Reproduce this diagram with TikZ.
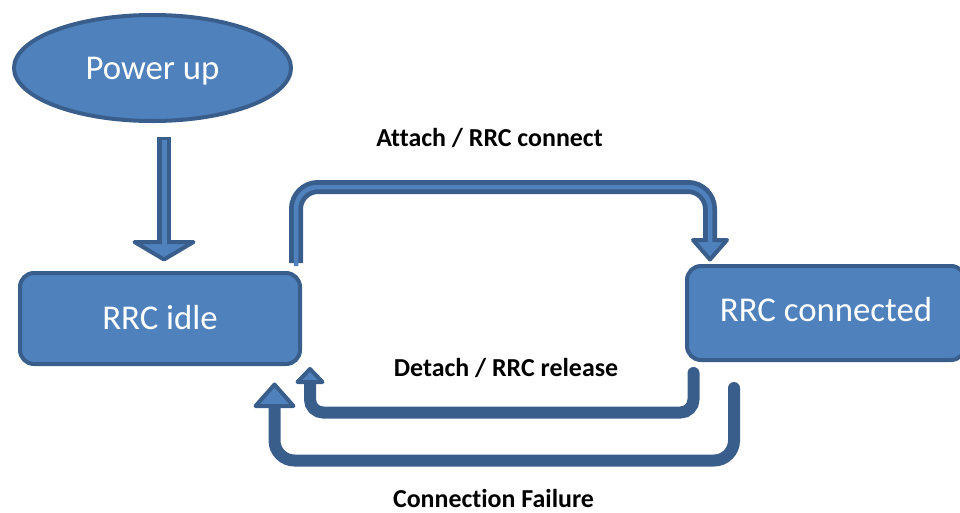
\documentclass[tikz,border=0pt]{standalone}
\usepackage{fontspec}
\setmainfont[Ligatures={NoCommon}]{Carlito}
\usetikzlibrary{shapes.geometric}
\definecolor{boxfill}{HTML}{4F81BD}
\definecolor{boxline}{HTML}{3A5E8C}
\tikzset{
  statebox/.style={draw=boxline, fill=boxfill, line width=4pt, rounded corners=14pt,
    inner sep=0pt, text=white, font=\fontsize{34.8}{40}\selectfont},
  startoval/.style={ellipse, draw=boxline, fill=boxfill, line width=4pt,
    inner sep=0pt, text=white, font=\fontsize{34.8}{40}\selectfont},
  tlabel/.style={font=\bfseries\fontsize{25.9}{30}\selectfont, text=black, anchor=base, inner sep=0pt},
  headtri/.style={fill=boxfill, draw=boxline, line width=4pt, line join=round}
}
\begin{document}
\begin{tikzpicture}[x=1pt,y=-1pt]
\useasboundingbox (0,0) rectangle (960,512);

% states
\node[startoval, minimum width=277pt, minimum height=106pt, text depth=0pt] (power) at (152.5,68) {Power up};
\node[statebox, minimum width=280pt, minimum height=91pt, text depth=2pt] (idle) at (160,318.5) {RRC idle};
\node[statebox, minimum width=278pt, minimum height=94pt, text depth=8pt] (conn) at (826,313) {RRC connected};

% connector end points next to the states
\coordinate (pwrOut) at ([xshift=11.5pt,yshift=-14pt]power.south);
\coordinate (idleIn) at ([xshift=4pt,yshift=10pt]idle.north);
\coordinate (attOut) at (296,263);
\coordinate (attIn)  at (710,262);
\coordinate (detOut) at (693.5,373);
\coordinate (detIn)  at (310,369);
\coordinate (failOut) at (734,388);
\coordinate (failIn)  at (274.5,384.5);

% Power up -> RRC idle (block arrow: dark rim, light core)
\draw[draw=boxline, line width=14pt] (pwrOut) -- (pwrOut |- 0,242);
\draw[headtri] (134.5,242) -- (193.5,242) -- (idleIn |- 0,259.5) -- cycle;
\draw[draw=boxfill, line width=5pt] ([yshift=-2.5pt]pwrOut) -- (pwrOut |- 0,246);

% Attach / RRC connect
\draw[draw=boxline, line width=14pt, rounded corners=22pt]
  (attOut) -- (296,187) -- (710,187) -- (710,242);
\draw[headtri] (693,240) -- (727,240) -- ([yshift=2.5pt]attIn) -- cycle;
\draw[draw=boxfill, line width=4.5pt, rounded corners=22pt]
  ([yshift=-3pt]attOut) -- (296,187) -- (710,187) -- (710,244);
\node[tlabel] (lblAtt) at (489.5,146) {Attach / RRC connect};

% Detach / RRC release
\draw[draw=boxline, line width=12pt, line cap=round, rounded corners=13pt]
  (detOut) -- (693.5,412.5) -- (310,412.5) -- (310,382);
\draw[headtri] (297.5,382) -- (322.5,382) -- (detIn) -- cycle;
\node[tlabel] (lblDet) at (506,376) {Detach / RRC release};

% Connection Failure
\draw[draw=boxline, line width=12pt, line cap=round, rounded corners=20pt]
  (failOut) -- (734,460.5) -- (274.5,460.5) -- (274.5,406);
\draw[headtri] (255.5,406) -- (293.5,406) -- (failIn) -- cycle;
\node[tlabel] (lblFail) at (493.5,507) {Connection Failure};
\end{tikzpicture}
\end{document}
